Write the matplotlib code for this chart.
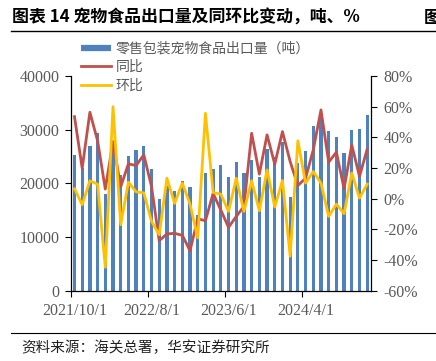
import matplotlib
matplotlib.use("Agg")
import matplotlib.pyplot as plt
from matplotlib.lines import Line2D
from matplotlib.ticker import FuncFormatter
import numpy as np
import pandas as pd

plt.rcParams['font.family'] = ['Noto Sans CJK SC', 'DejaVu Sans']

# monthly categories, 2021/10 .. 2024/12
months = pd.date_range('2021-10-01', periods=39, freq='MS')
month_labels = [f"{d.year}/{d.month}/1" for d in months]
shown_labels = ['2021/10/1', '2022/8/1', '2023/6/1', '2024/4/1']

# export volume (tonnes)
volume = [25200, 22800, 26950, 29400, 18000, 27800, 21600, 25150, 26150, 26950,
          22600, 17050, 19500, 18650, 20450, 19350, 14150, 22000, 22750, 23400,
          21200, 24050, 21850, 24350, 21250, 26400, 24850, 27700, 17400, 23850,
          26000, 30600, 32300, 29700, 28550, 25650, 30000, 30100, 32700]

# year-on-year change (%)
yoy = [53.4, 19.9, 56.3, 37.7, 6.3, 37.2, 7.8, 22.7, 21.6, 28.6,
       8.0, -27.3, -22.9, -22.5, -23.8, -33.8, -13.0, -14.3, 3.5, -7.4,
       -18.6, -11.5, -5.0, 42.6, 16.0, 41.6, 22.5, 43.7, 24.2, 8.6,
       13.4, 31.8, 57.8, 23.8, 30.3, 6.5, 35.0, 14.5, 32.3]

# month-on-month change (%)
mom = [6.5, -3.9, 11.7, 9.5, -44.6, 59.9, -16.9, 10.8, 4.5, 3.8,
       -14.7, -23.4, 13.4, -3.0, 10.2, -3.5, -25.5, 55.6, 4.1, 3.0,
       -8.2, 13.4, -8.2, 11.7, -7.8, 18.8, -5.4, 11.9, -37.4, 37.7,
       10.2, 17.7, 10.2, -11.5, -3.5, -9.7, 16.7, 0.4, 9.5]

BLUE = '#4F81BD'
RED = '#C0504D'
GOLD = '#FFC000'
GREY = '#595959'
SERIF = 'Liberation Serif'

fig = plt.figure(figsize=(4.36, 3.61), dpi=100)
ax = fig.add_axes([0.162, 0.194, 0.689, 0.596])
ax2 = ax.twinx()

x = np.arange(len(months))
ax.bar(x, volume, width=0.42, color=BLUE, zorder=2)
ax2.plot(x, yoy, color=RED, lw=2.0, zorder=3)
ax2.plot(x, mom, color=GOLD, lw=2.0, zorder=4)

ax.set_xlim(-0.5, len(months) - 0.5)
ax.set_ylim(0, 40000)
ax.set_yticks(np.arange(0, 40001, 10000))
ax2.set_ylim(-60, 80)
ax2.set_yticks(np.arange(-60, 81, 20))
ax2.yaxis.set_major_formatter(FuncFormatter(lambda v, p: f"{v:.0f}%"))

# tick marks on category boundaries, labels on category centres
idx = [month_labels.index(s) for s in shown_labels]
ax.set_xticks([i - 0.5 for i in idx])
ax.set_xticklabels([])
ax.set_xticks(idx, minor=True)
ax.set_xticklabels(shown_labels, minor=True)
ax.tick_params(axis='x', which='major', direction='out', length=4, color='black')
ax.tick_params(axis='x', which='minor', length=0, pad=9)

for a in (ax, ax2):
    a.spines['top'].set_visible(False)
    for s in a.spines.values():
        s.set_color('black')
        s.set_linewidth(0.9)
ax.spines['right'].set_visible(False)
ax2.spines['left'].set_visible(False)
ax2.spines['bottom'].set_visible(False)

ax.tick_params(axis='y', direction='out', length=4, color='black', pad=4)
ax2.tick_params(axis='y', direction='out', length=4, color='black', pad=5)
for lab in ax.get_yticklabels() + ax2.get_yticklabels() + ax.get_xticklabels(minor=True):
    lab.set_family(SERIF)
    lab.set_fontsize(11.5)
    lab.set_color(GREY)

handles = [Line2D([], [], color=BLUE, lw=4.5, solid_capstyle='butt'),
           Line2D([], [], color=RED, lw=2.0),
           Line2D([], [], color=GOLD, lw=2.0)]
labels = ['零售包装宠物食品出口量（吨）', '同比', '环比']
leg = fig.legend(handles, labels, loc='upper left', bbox_to_anchor=(0.185, 0.885),
                 frameon=False, fontsize=10, handlelength=2.2, handletextpad=0.3,
                 labelspacing=0.32, borderaxespad=0, borderpad=0)
for t in leg.get_texts():
    t.set_color(GREY)

fig.text(0.028, 0.95, '图表 14 宠物食品出口量及同环比变动，吨、%', fontsize=12.2,
         fontweight='bold', va='center', ha='left')
fig.text(0.972, 0.95, '图', fontsize=12.2, fontweight='bold', va='center', ha='left')
fig.add_artist(Line2D([0.025, 1.0], [0.914, 0.914], color='black', lw=1.0))
fig.add_artist(Line2D([0.025, 1.0], [0.078, 0.078], color='black', lw=0.8))
fig.text(0.048, 0.037, '资料来源：海关总署，华安证券研究所', fontsize=10.5,
         va='center', ha='left', color='#222222')

fig.savefig('out.png', dpi=100)
